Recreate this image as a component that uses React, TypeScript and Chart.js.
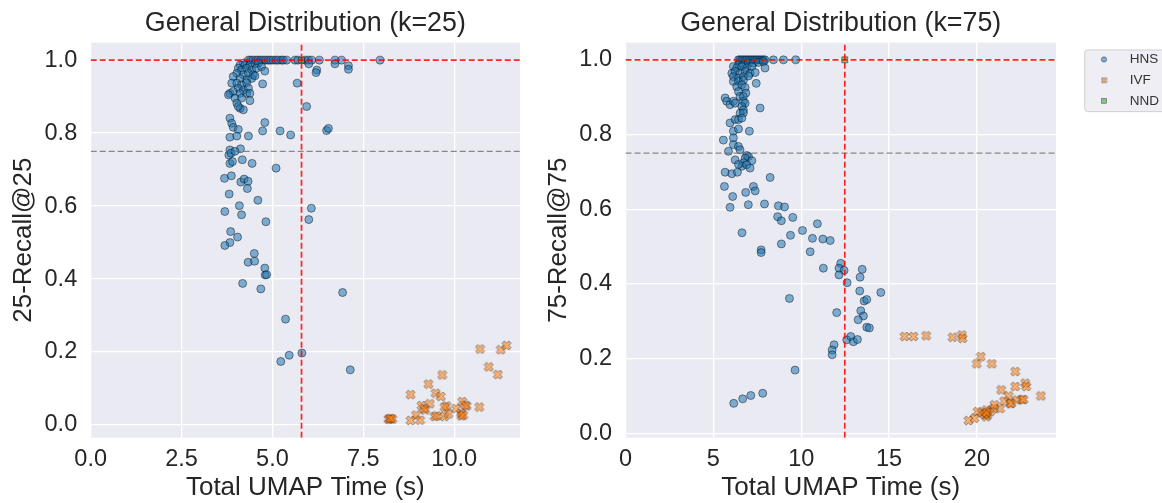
import React, { useEffect, useRef } from "react";
import { Chart, registerables } from "chart.js";
Chart.register(...registerables);

const FONT = "'Liberation Sans', Arial, Helvetica, sans-serif";
const TEXT = "#262626";

// ---------- data ----------
const SERIES = ["HNS", "IVF", "NND"];
const THRESHOLD = 0.75;

const LEFT_TITLE = "General Distribution (k=25)";
const RIGHT_TITLE = "General Distribution (k=75)";
const X_LABEL = "Total UMAP Time (s)";
const LEFT_Y_LABEL = "25-Recall@25";
const RIGHT_Y_LABEL = "75-Recall@75";

const LEFT_X_TICKS = [0, 2.5, 5, 7.5, 10];
const RIGHT_X_TICKS = [0, 5, 10, 15, 20];
const Y_TICKS = [0, 0.2, 0.4, 0.6, 0.8, 1.0];

const LEFT_RANGE = [0, 11.81, -0.035, 1.048];
const RIGHT_RANGE = [0, 24.5, -0.012, 1.046];

const LEFT_NND: [number, number] = [5.8, 1.0];
const RIGHT_NND: [number, number] = [12.48, 1.0];

const LEFT_HNS: [number, number][] = [
  [4.34, 1.0], [4.4, 1.0], [4.47, 1.0], [4.55, 1.0], [4.61, 1.0], [4.68, 1.0], [4.75, 1.0], [4.82, 1.0],
  [4.89, 1.0], [4.95, 1.0], [5.02, 1.0], [5.1, 1.0], [5.16, 1.0], [5.25, 1.0], [5.3, 1.0], [5.39, 1.0],
  [5.62, 1.0], [5.7, 1.0], [5.9, 1.0], [5.99, 1.0], [6.08, 1.0], [6.29, 1.0], [6.72, 1.0], [6.9, 1.0],
  [7.96, 1.0], [6.0, 0.99], [6.72, 0.99], [7.09, 0.985], [7.09, 0.975], [6.22, 0.973], [6.2, 0.966],
  [4.2, 0.992], [4.11, 0.987], [4.24, 0.987], [4.38, 0.987], [4.52, 0.99], [4.61, 0.992],
  [4.06, 0.978], [4.15, 0.973], [4.29, 0.978], [4.43, 0.973], [4.56, 0.978], [4.7, 0.982],
  [4.02, 0.964], [4.2, 0.96], [4.34, 0.964], [4.47, 0.96], [4.79, 0.97],
  [3.92, 0.955], [4.11, 0.95], [4.29, 0.946], [4.43, 0.95], [4.52, 0.957],
  [3.88, 0.937], [4.02, 0.937], [4.15, 0.932], [4.29, 0.938], [4.73, 0.935], [5.68, 0.937],
  [4.06, 0.923], [4.2, 0.918], [4.34, 0.923],
  [3.83, 0.909], [3.92, 0.914], [4.11, 0.909], [4.29, 0.909], [4.38, 0.909],
  [3.79, 0.905], [3.97, 0.896], [4.15, 0.896], [4.38, 0.889],
  [4.02, 0.882], [4.11, 0.868], [4.2, 0.864], [4.06, 0.873], [5.94, 0.873],
  [3.83, 0.841], [3.88, 0.827], [3.92, 0.816], [4.06, 0.81], [4.79, 0.829], [4.73, 0.806],
  [5.21, 0.806], [5.5, 0.795], [3.83, 0.789], [4.02, 0.792], [4.34, 0.792], [6.49, 0.807], [6.54, 0.813],
  [4.12, 0.757], [3.83, 0.754], [3.8, 0.74], [3.86, 0.745], [3.97, 0.75],
  [3.83, 0.717], [3.9, 0.722], [4.17, 0.727], [4.44, 0.717], [5.1, 0.704],
  [3.68, 0.676], [3.87, 0.683], [4.13, 0.666], [4.22, 0.674], [4.33, 0.668], [4.31, 0.648],
  [3.81, 0.633], [4.6, 0.616], [4.09, 0.601], [6.07, 0.594], [3.69, 0.585], [4.15, 0.576],
  [6.0, 0.563], [4.82, 0.557], [3.85, 0.53], [4.04, 0.515], [3.83, 0.5], [3.69, 0.492],
  [4.5, 0.47], [4.33, 0.446], [4.51, 0.449], [4.79, 0.43], [4.8, 0.411], [4.84, 0.412],
  [4.18, 0.388], [4.68, 0.373], [6.93, 0.363], [5.36, 0.29], [5.81, 0.197], [5.46, 0.191],
  [5.23, 0.174], [7.14, 0.151],
];

const LEFT_IVF: [number, number][] = [
  [10.71, 0.208], [11.28, 0.206], [11.44, 0.218], [10.95, 0.159], [11.2, 0.138], [9.67, 0.137],
  [9.29, 0.112], [8.8, 0.083], [9.49, 0.087], [9.63, 0.078], [9.1, 0.053], [9.33, 0.058],
  [9.2, 0.041], [9.17, 0.045], [8.95, 0.027], [8.8, 0.012], [9.06, 0.013], [9.46, 0.023],
  [9.52, 0.025], [9.73, 0.023], [9.84, 0.03], [9.79, 0.052], [9.73, 0.049], [10.05, 0.045],
  [10.22, 0.064], [10.34, 0.052], [10.3, 0.054], [10.19, 0.032], [10.2, 0.025], [10.25, 0.027],
  [10.69, 0.049], [8.19, 0.016], [8.23, 0.016], [8.3, 0.016], [8.25, 0.018],
];

const RIGHT_HNS: [number, number][] = [
  [6.43, 1.0], [6.52, 1.0], [6.62, 1.0], [6.71, 1.0], [6.81, 1.0], [6.9, 1.0], [7.0, 1.0], [7.09, 1.0],
  [7.19, 1.0], [7.28, 1.0], [7.38, 1.0], [7.47, 1.0], [7.57, 1.0], [7.66, 1.0], [7.76, 1.0], [7.85, 1.0],
  [7.94, 1.0], [8.42, 1.0], [8.99, 1.0], [9.69, 1.0],
  [6.43, 0.987], [6.71, 0.987], [7.0, 0.991], [7.28, 0.991], [7.57, 0.993], [7.85, 0.995],
  [6.14, 0.982], [6.33, 0.978], [6.62, 0.982], [6.9, 0.978], [7.19, 0.982], [7.94, 0.978],
  [6.05, 0.964], [6.24, 0.969], [6.52, 0.964], [6.81, 0.969], [7.09, 0.964], [7.38, 0.966],
  [6.14, 0.955], [6.43, 0.951], [6.71, 0.955], [7.0, 0.957],
  [6.14, 0.942], [6.43, 0.942], [6.71, 0.945], [7.44, 0.937],
  [6.33, 0.928], [6.62, 0.933], [6.81, 0.926], [6.43, 0.915], [6.85, 0.911],
  [6.52, 0.902], [6.71, 0.902],
  [5.67, 0.898], [5.76, 0.889], [5.95, 0.88], [6.14, 0.889], [6.24, 0.884], [6.71, 0.889], [6.81, 0.884],
  [6.62, 0.875], [6.71, 0.866], [7.66, 0.871], [6.52, 0.857], [6.71, 0.858],
  [5.95, 0.831], [6.24, 0.84], [6.43, 0.84], [6.62, 0.844],
  [6.14, 0.809], [6.43, 0.815], [7.05, 0.809], [5.57, 0.785], [6.14, 0.791],
  [6.14, 0.773], [6.43, 0.768], [6.52, 0.759],
  [5.86, 0.755], [6.9, 0.744], [7.0, 0.741], [6.81, 0.737],
  [6.24, 0.732], [6.71, 0.724], [7.19, 0.73], [6.62, 0.715], [6.9, 0.719], [6.43, 0.72], [7.09, 0.71],
  [5.67, 0.699], [6.05, 0.695], [6.37, 0.699], [8.23, 0.685],
  [5.63, 0.661], [6.1, 0.634], [5.95, 0.605], [6.84, 0.645], [6.99, 0.612], [7.28, 0.661], [7.38, 0.649],
  [7.91, 0.614], [8.7, 0.609], [9.05, 0.606], [8.66, 0.58], [8.87, 0.569], [9.52, 0.578], [10.92, 0.561],
  [6.63, 0.537], [9.39, 0.53], [10.07, 0.543], [10.64, 0.522], [11.23, 0.52], [11.65, 0.516],
  [8.87, 0.507], [7.72, 0.491], [7.72, 0.484], [10.51, 0.486],
  [12.25, 0.455], [12.15, 0.442], [12.44, 0.436], [12.15, 0.424], [11.26, 0.442], [13.47, 0.439],
  [13.35, 0.418], [12.61, 0.403], [13.33, 0.381], [14.53, 0.377], [9.33, 0.361], [13.58, 0.354],
  [13.73, 0.358], [12.02, 0.323], [13.39, 0.328], [13.54, 0.314], [13.24, 0.304], [13.73, 0.284],
  [13.88, 0.282], [12.59, 0.25], [12.82, 0.259], [12.97, 0.245], [13.2, 0.251],
  [11.87, 0.237], [11.76, 0.223], [11.76, 0.21], [9.65, 0.169],
  [6.16, 0.08], [6.67, 0.092], [7.13, 0.101], [7.81, 0.107],
];

const RIGHT_IVF: [number, number][] = [
  [15.88, 0.259], [16.39, 0.259], [17.11, 0.261], [18.61, 0.257], [19.14, 0.263], [19.18, 0.254],
  [20.22, 0.205], [19.99, 0.186], [20.85, 0.186], [22.18, 0.165], [21.38, 0.116], [22.18, 0.125],
  [22.75, 0.134], [22.81, 0.125], [23.64, 0.1], [21.8, 0.1], [21.55, 0.086], [21.9, 0.079],
  [21.95, 0.08], [22.27, 0.089], [22.56, 0.09], [22.65, 0.09], [21.32, 0.066], [20.94, 0.066],
  [20.53, 0.062], [20.6, 0.049], [20.53, 0.044], [20.04, 0.058], [19.86, 0.04], [19.52, 0.034],
  [20.28, 0.054], [20.76, 0.058], [21.0, 0.076], [20.45, 0.05], [20.55, 0.055],
];

// ---------- styles ----------
const HNS_FILL = "rgba(31,119,180,0.55)";
const IVF_FILL = "rgba(255,127,14,0.55)";
const NND_FILL = "rgba(44,160,44,0.55)";
const EDGE = "rgba(0,0,0,0.55)";

function makeXMarker(size: number): HTMLCanvasElement {
  const c = document.createElement("canvas");
  c.width = size;
  c.height = size;
  const ctx = c.getContext("2d")!;
  const h = size / 2;
  ctx.translate(h, h);
  ctx.rotate(Math.PI / 4);
  const a = h * 0.86;
  const w = h * 0.3;
  ctx.beginPath();
  ctx.moveTo(-w, -a); ctx.lineTo(w, -a); ctx.lineTo(w, -w); ctx.lineTo(a, -w);
  ctx.lineTo(a, w); ctx.lineTo(w, w); ctx.lineTo(w, a); ctx.lineTo(-w, a);
  ctx.lineTo(-w, w); ctx.lineTo(-a, w); ctx.lineTo(-a, -w); ctx.lineTo(-w, -w);
  ctx.closePath();
  ctx.fillStyle = IVF_FILL;
  ctx.fill();
  ctx.strokeStyle = EDGE;
  ctx.lineWidth = 0.7;
  ctx.stroke();
  return c;
}

const bgPlugin = {
  id: "axesBg",
  beforeDraw(chart: any) {
    const { ctx, chartArea: a } = chart;
    ctx.save();
    ctx.fillStyle = "#EAEAF2";
    ctx.fillRect(a.left, a.top, a.right - a.left, a.bottom - a.top);
    ctx.restore();
  },
};

function makeLegendPlugin(xMarkerSmall: HTMLCanvasElement) {
  return {
    id: "sideLegend",
    afterDraw(chart: any) {
      const { ctx, chartArea: a } = chart;
      const x0 = a.right + 28.7;
      const y0 = a.top + 7.3;
      ctx.save();
      ctx.beginPath();
      const w = 140, hgt = 61.7, r = 3;
      ctx.moveTo(x0 + r, y0);
      ctx.lineTo(x0 + w, y0);
      ctx.lineTo(x0 + w, y0 + hgt);
      ctx.lineTo(x0 + r, y0 + hgt);
      ctx.arcTo(x0, y0 + hgt, x0, y0 + hgt - r, r);
      ctx.lineTo(x0, y0 + r);
      ctx.arcTo(x0, y0, x0 + r, y0, r);
      ctx.closePath();
      ctx.fillStyle = "rgba(238,238,244,1)";
      ctx.fill();
      ctx.strokeStyle = "#cfcfcf";
      ctx.lineWidth = 1;
      ctx.stroke();
      ctx.font = `13.5px ${FONT}`;
      ctx.textBaseline = "middle";
      ctx.textAlign = "left";
      SERIES.forEach((name, i) => {
        const cy = y0 + 9.5 + i * 20.7;
        const mx = x0 + 19.3;
        if (name === "HNS") {
          ctx.beginPath();
          ctx.arc(mx, cy, 2.7, 0, Math.PI * 2);
          ctx.fillStyle = HNS_FILL;
          ctx.fill();
          ctx.strokeStyle = EDGE;
          ctx.lineWidth = 0.6;
          ctx.stroke();
        } else if (name === "IVF") {
          ctx.drawImage(xMarkerSmall, mx - xMarkerSmall.width / 2, cy - xMarkerSmall.height / 2);
        } else {
          ctx.fillStyle = NND_FILL;
          ctx.fillRect(mx - 2.4, cy - 2.4, 4.8, 4.8);
          ctx.strokeStyle = EDGE;
          ctx.lineWidth = 0.6;
          ctx.strokeRect(mx - 2.4, cy - 2.4, 4.8, 4.8);
        }
        ctx.fillStyle = "#333";
        ctx.fillText(name, x0 + 45, cy);
      });
      ctx.restore();
    },
  };
}

interface Spec {
  title: string;
  yLabel: string;
  xTicks: number[];
  xDecimals: number;
  range: number[];
  hns: [number, number][];
  ivf: [number, number][];
  nnd: [number, number];
  yAxisWidth: number;
  yTitlePad: number;
  rightPad: number;
  legend: boolean;
}

const pts = (arr: [number, number][]) => arr.map(([x, y]) => ({ x, y }));

function buildChart(canvas: HTMLCanvasElement, s: Spec) {
  const [xMin, xMax, yMin, yMax] = s.range;
  const xMarker = makeXMarker(11);
  const xMarkerSmall = makeXMarker(7);
  const lineBase = { showLine: true, pointRadius: 0, fill: false, order: 0 } as any;
  const plugins: any[] = [bgPlugin];
  if (s.legend) plugins.push(makeLegendPlugin(xMarkerSmall));
  return new Chart(canvas, {
    type: "scatter",
    data: {
      datasets: [
        {
          ...lineBase,
          label: "nnd-time",
          data: [{ x: s.nnd[0], y: yMin }, { x: s.nnd[0], y: yMax }],
          borderColor: "rgba(255,0,0,0.85)",
          borderWidth: 1.7,
          borderDash: [6, 3],
        },
        {
          ...lineBase,
          label: "nnd-recall",
          data: [{ x: xMin, y: s.nnd[1] }, { x: xMax, y: s.nnd[1] }],
          borderColor: "rgba(255,0,0,0.85)",
          borderWidth: 1.7,
          borderDash: [6, 3],
        },
        {
          ...lineBase,
          label: "threshold",
          data: [{ x: xMin, y: THRESHOLD }, { x: xMax, y: THRESHOLD }],
          borderColor: "rgba(110,110,110,0.8)",
          borderWidth: 1.3,
          borderDash: [6, 3],
        },
        {
          label: "HNS",
          data: pts(s.hns),
          pointStyle: "circle",
          pointRadius: 4,
          backgroundColor: HNS_FILL,
          borderColor: EDGE,
          borderWidth: 0.8,
          order: 3,
        },
        {
          label: "IVF",
          data: pts(s.ivf),
          pointStyle: xMarker as any,
          pointRadius: 4.5,
          backgroundColor: IVF_FILL,
          borderColor: EDGE,
          order: 2,
        },
        {
          label: "NND",
          data: [{ x: s.nnd[0], y: s.nnd[1] }],
          pointStyle: "rect",
          pointRadius: 4.2,
          backgroundColor: NND_FILL,
          borderColor: EDGE,
          borderWidth: 0.8,
          order: 1,
        },
      ],
    },
    options: {
      responsive: false,
      animation: false,
      events: [],
      layout: { padding: { left: 0, top: 0, right: s.rightPad, bottom: 0 } },
      plugins: {
        legend: { display: false },
        tooltip: { enabled: false },
        title: {
          display: true,
          fullSize: false,
          text: s.title,
          color: TEXT,
          font: { family: FONT, size: 26.8, weight: "normal", lineHeight: 1.2 },
          padding: { top: 7.5, bottom: 3 },
        },
      },
      scales: {
        x: {
          type: "linear",
          min: xMin,
          max: xMax,
          afterBuildTicks: (sc: any) => {
            sc.ticks = s.xTicks.map((v) => ({ value: v }));
          },
          afterFit: (sc: any) => {
            sc.height = 65.3;
          },
          grid: { color: "#ffffff", lineWidth: 1.3, drawTicks: false },
          border: { display: false },
          ticks: {
            padding: 8.2,
            color: TEXT,
            maxRotation: 0,
            autoSkip: false,
            font: { family: FONT, size: 23.5 },
            callback: (v: any) => Number(v).toFixed(s.xDecimals),
          },
          title: {
            display: true,
            text: X_LABEL,
            color: TEXT,
            font: { family: FONT, size: 26, lineHeight: 1.2 },
            padding: { top: 0, bottom: 0 },
          },
        },
        y: {
          type: "linear",
          min: yMin,
          max: yMax,
          afterBuildTicks: (sc: any) => {
            sc.ticks = Y_TICKS.map((v) => ({ value: v }));
          },
          afterFit: (sc: any) => {
            sc.width = s.yAxisWidth;
          },
          grid: { color: "#ffffff", lineWidth: 1.3, drawTicks: false },
          border: { display: false },
          ticks: {
            padding: 13.5,
            color: TEXT,
            autoSkip: false,
            font: { family: FONT, size: 23.5 },
            callback: (v: any) => Number(v).toFixed(1),
          },
          title: {
            display: true,
            text: s.yLabel,
            color: TEXT,
            font: { family: FONT, size: 26, lineHeight: 1.2 },
            padding: { top: s.yTitlePad, bottom: 0 },
          },
        },
      },
    },
    plugins,
  } as any);
}

export default function App() {
  const leftRef = useRef<HTMLCanvasElement>(null);
  const rightRef = useRef<HTMLCanvasElement>(null);
  useEffect(() => {
    const a = buildChart(leftRef.current!, {
      title: LEFT_TITLE,
      yLabel: LEFT_Y_LABEL,
      xTicks: LEFT_X_TICKS,
      xDecimals: 1,
      range: LEFT_RANGE,
      hns: LEFT_HNS,
      ivf: LEFT_IVF,
      nnd: LEFT_NND,
      yAxisWidth: 90.7,
      yTitlePad: 8.4,
      rightPad: 20,
      legend: false,
    });
    const b = buildChart(rightRef.current!, {
      title: RIGHT_TITLE,
      yLabel: RIGHT_Y_LABEL,
      xTicks: RIGHT_X_TICKS,
      xDecimals: 0,
      range: RIGHT_RANGE,
      hns: RIGHT_HNS,
      ivf: RIGHT_IVF,
      nnd: RIGHT_NND,
      yAxisWidth: 85.5,
      yTitlePad: 3.4,
      rightPad: 106,
      legend: true,
    });
    return () => {
      a.destroy();
      b.destroy();
    };
  }, []);
  return (
    <div style={{ position: "fixed", left: 0, top: 0, width: 1162, height: 503, background: "#fff", overflow: "hidden" }}>
      <canvas ref={leftRef} width={540} height={503} style={{ position: "absolute", left: 0, top: 0 }} />
      <canvas ref={rightRef} width={622} height={503} style={{ position: "absolute", left: 540, top: 0 }} />
    </div>
  );
}
